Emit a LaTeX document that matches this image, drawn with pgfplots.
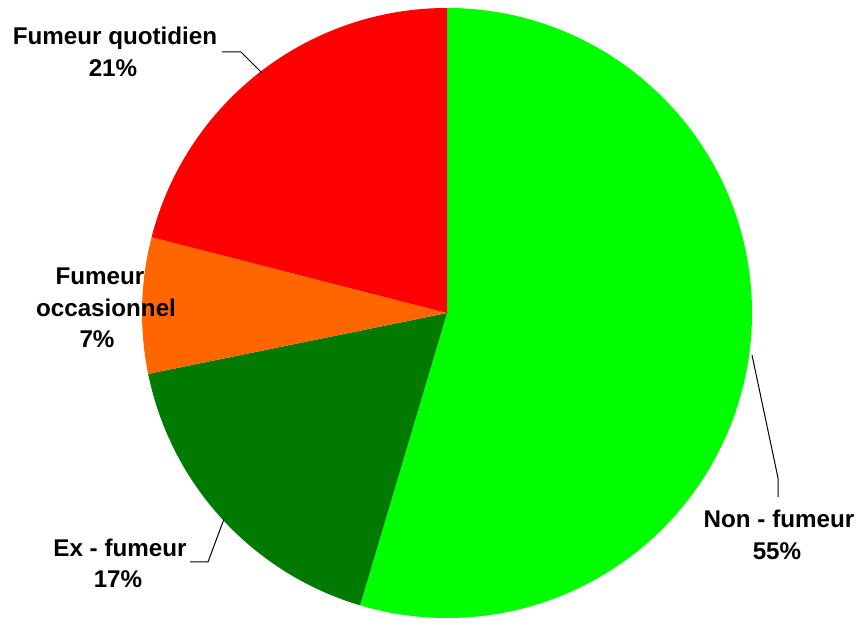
\documentclass[border=0pt]{standalone}
\usepackage{pgfplots}
\pgfplotsset{compat=1.18}
\usepackage{fontspec}
\setmainfont{Liberation Sans}
\definecolor{nonfum}{HTML}{00FF00}
\definecolor{exfum}{HTML}{007A00}
\definecolor{occfum}{HTML}{FF6600}
\definecolor{quotfum}{HTML}{FF0000}
\tikzset{lbl/.style={font=\bfseries\fontsize{24.2}{28}\selectfont, anchor=base, inner sep=0pt}}

\begin{document}
\begin{tikzpicture}
\begin{axis}[x=1pt, y=1pt, xmin=0, xmax=859, ymin=0, ymax=618,
  hide axis, clip=false]
\path (axis cs:0,0) rectangle (axis cs:859,618);
% shares in percent, clockwise from 12 o'clock
\gdef\cumul{90}
\foreach \v/\c in {54.6/nonfum, 17.2/exfum, 7.2/occfum, 21.0/quotfum} {
  \pgfmathsetmacro\endang{\cumul-3.6*\v}
  \edef\temp{\noexpand\fill[\c] (axis cs:447,305) -- ++(\cumul:305pt)
    arc[start angle=\cumul, end angle=\endang, radius=305pt] -- cycle;}
  \temp
  \global\let\cumul\endang
}
% leader lines
\draw[line width=1pt] (axis cs:222,566) -- (axis cs:241,566) -- (axis cs:262,545);
\draw[line width=1pt] (axis cs:190,56) -- (axis cs:208,56) -- (axis cs:224,99);
\draw[line width=1pt] (axis cs:752,263) -- (axis cs:778,140) -- (axis cs:778,121);
% labels
\node[lbl] at (axis cs:115,573) {Fumeur quotidien};
\node[lbl] at (axis cs:113,541) {21\%};
\node[lbl] at (axis cs:100,333) {Fumeur};
\node[lbl] at (axis cs:106,301) {occasionnel};
\node[lbl] at (axis cs:97,270) {7\%};
\node[lbl] at (axis cs:120,61) {Ex - fumeur};
\node[lbl] at (axis cs:118,30) {17\%};
\node[lbl] at (axis cs:779,90) {Non - fumeur};
\node[lbl] at (axis cs:777,58) {55\%};
\end{axis}
\end{tikzpicture}
\end{document}
